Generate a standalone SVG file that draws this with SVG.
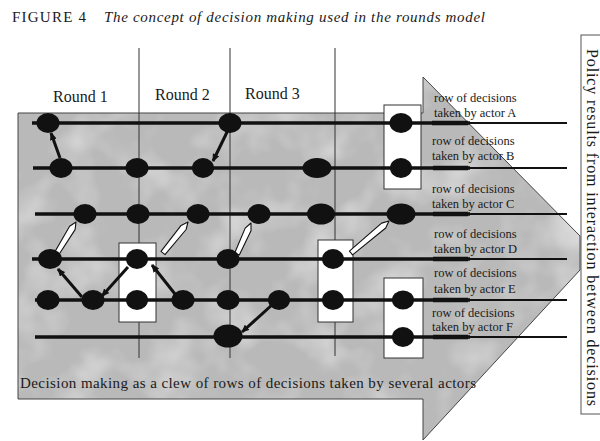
<svg xmlns="http://www.w3.org/2000/svg" width="600" height="441" viewBox="0 0 600 441">
  <style>
    text { font-family: "Liberation Serif", "Times New Roman", serif; fill: #1a1a1a; }
    .title { font-size: 15px; }
    .round { font-size: 16px; }
    .lbl { font-size: 12.5px; }
    .side { font-size: 16px; }
    .note { font-size: 15px; }
    .row { stroke: #111; stroke-width: 3.5; }
    .rowthick { stroke: #111; stroke-width: 4.5; }
    .rowthin { stroke: #111; stroke-width: 2; }
    .div { stroke: #333; stroke-width: 1; }
    .box { fill: #fff; stroke: #333; stroke-width: 1; }
    .node { fill: #111; }
    .push { stroke: #111; stroke-width: 3; fill: none; marker-end: url(#head); }
    .hollow { fill: #fff; stroke: #111; stroke-width: 1.1; stroke-linejoin: round; }
  </style>
  <defs>
    <marker id="head" markerUnits="userSpaceOnUse" markerWidth="8" markerHeight="7" refX="7" refY="3.5" orient="auto">
      <path d="M0,0 L8,3.5 L0,7 Z" fill="#111"/>
    </marker>
    <path id="bigArrow" d="M18,113 H423 V77 L580,236 V270 L423,440 V399 H18 Z"/>
    <filter id="mottle" x="0" y="0" width="1" height="1">
      <feTurbulence type="fractalNoise" baseFrequency="0.02" numOctaves="3" seed="11" result="noise"/>
      <feColorMatrix in="noise" type="matrix" values="0 0 0 0 1  0 0 0 0 1  0 0 0 0 1  1.0 0 0 0 -0.45" result="light"/>
      <feComposite in="light" in2="SourceAlpha" operator="in"/>
    </filter>
  </defs>

  <!-- caption -->
  <text class="title" x="12" y="22" textLength="74" lengthAdjust="spacing">FIGURE 4</text>
  <text class="title" x="104" y="22" font-style="italic" textLength="381" lengthAdjust="spacing">The concept of decision making used in the rounds model</text>

  <!-- large background arrow -->
  <g id="background-arrow">
    <use href="#bigArrow" fill="#b9b9b9"/>
    <use href="#bigArrow" fill="#000" filter="url(#mottle)"/>
    <use href="#bigArrow" fill="none" stroke="#444" stroke-width="1"/>
  </g>

  <!-- round dividers -->
  <g id="dividers">
    <line class="div" x1="139" y1="48" x2="139" y2="358"/>
    <line class="div" x1="230" y1="48" x2="230" y2="358"/>
    <line class="div" x1="335" y1="48" x2="335" y2="356"/>
  </g>

  <g id="round-labels">
    <text class="round" x="53" y="102">Round 1</text>
    <text class="round" x="155" y="100">Round 2</text>
    <text class="round" x="245" y="99">Round 3</text>
  </g>

  <!-- interaction boxes -->
  <g id="boxes">
    <rect class="box" x="384" y="105" width="37" height="84"/>
    <rect class="box" x="119" y="243" width="37" height="79"/>
    <rect class="box" x="318" y="240" width="35" height="82"/>
    <rect class="box" x="384" y="278" width="39" height="80"/>
  </g>

  <!-- rows of decisions, one per actor -->
  <g id="rows">
    <line class="row" x1="32" y1="123" x2="470" y2="123"/>
    <line class="rowthick" x1="432" y1="123" x2="468" y2="123"/>
    <line class="rowthin" x1="468" y1="123" x2="567" y2="123"/>

    <line class="row" x1="33" y1="168" x2="470" y2="168"/>
    <line class="rowthick" x1="433" y1="168" x2="468" y2="168"/>
    <line class="rowthin" x1="468" y1="168" x2="567" y2="168"/>

    <line class="row" x1="35" y1="214" x2="470" y2="214"/>
    <line class="rowthick" x1="433" y1="214" x2="468" y2="214"/>
    <line class="rowthin" x1="468" y1="214" x2="567" y2="214"/>

    <line class="row" x1="32" y1="259" x2="470" y2="259"/>
    <line class="rowthick" x1="433" y1="259" x2="468" y2="259"/>
    <line class="rowthin" x1="468" y1="259" x2="567" y2="259"/>

    <line class="row" x1="35" y1="300" x2="470" y2="300"/>
    <line class="rowthick" x1="433" y1="300" x2="468" y2="300"/>
    <line class="rowthin" x1="468" y1="300" x2="567" y2="300"/>

    <line class="row" x1="35" y1="337" x2="470" y2="337"/>
    <line class="rowthick" x1="433" y1="337" x2="468" y2="337"/>
    <line class="rowthin" x1="468" y1="337" x2="567" y2="337"/>
  </g>

  <g id="row-labels">
    <text class="lbl" x="434" y="102">row of decisions</text>
    <text class="lbl" x="434" y="117">taken by actor A</text>
    <text class="lbl" x="432" y="145">row of decisions</text>
    <text class="lbl" x="432" y="160">taken by actor B</text>
    <text class="lbl" x="432" y="193">row of decisions</text>
    <text class="lbl" x="432" y="208">taken by actor C</text>
    <text class="lbl" x="434" y="238">row of decisions</text>
    <text class="lbl" x="434" y="253">taken by actor D</text>
    <text class="lbl" x="434" y="277">row of decisions</text>
    <text class="lbl" x="434" y="293">taken by actor E</text>
    <text class="lbl" x="432" y="317">row of decisions</text>
    <text class="lbl" x="432" y="331">taken by actor F</text>
  </g>

  <!-- influences between decisions -->
  <g id="connectors">
    <line class="push" x1="60" y1="158" x2="51" y2="133"/>
    <line class="push" x1="230" y1="126" x2="213" y2="161"/>
    <line class="push" x1="82" y1="297" x2="58" y2="269"/>
    <line class="push" x1="128" y1="267" x2="102" y2="296"/>
    <line class="push" x1="175" y1="294" x2="152" y2="265"/>
    <line class="push" x1="273" y1="304" x2="242" y2="332"/>
    <polygon class="hollow" points="54.9,251.7 69.6,226.3 76,222 75.1,229.6 59.1,254.3"/>
    <polygon class="hollow" points="161.0,251.4 181.1,225.4 188,222 186.1,229.5 165.0,254.6"/>
    <polygon class="hollow" points="234.7,253.0 245.2,228.1 251,223 251.0,230.7 239.3,255.0"/>
    <polygon class="hollow" points="349.4,251.1 381.6,223.1 389,221 385.7,228.0 352.6,254.9"/>
  </g>

  <!-- decisions -->
  <g id="dA1"><ellipse class="node" cx="48" cy="123" rx="11.5" ry="10"/></g>
  <g id="dA2"><ellipse class="node" cx="230" cy="123" rx="11.5" ry="10"/></g>
  <g id="dA3"><ellipse class="node" cx="401" cy="123" rx="11.5" ry="10"/></g>

  <g id="dB1"><ellipse class="node" cx="61" cy="168" rx="11.5" ry="10"/></g>
  <g id="dB2"><ellipse class="node" cx="137" cy="168" rx="11.5" ry="10"/></g>
  <g id="dB3"><ellipse class="node" cx="203" cy="168" rx="11" ry="10"/></g>
  <g id="dB4"><ellipse class="node" cx="317" cy="168" rx="14.5" ry="10"/></g>
  <g id="dB5"><ellipse class="node" cx="401" cy="168" rx="11" ry="10"/></g>

  <g id="dC1"><ellipse class="node" cx="85" cy="214" rx="11.5" ry="10"/></g>
  <g id="dC2"><ellipse class="node" cx="138" cy="214" rx="11.5" ry="10"/></g>
  <g id="dC3"><ellipse class="node" cx="198" cy="214" rx="11.5" ry="10"/></g>
  <g id="dC4"><ellipse class="node" cx="259" cy="214" rx="11.5" ry="10"/></g>
  <g id="dC5"><ellipse class="node" cx="321" cy="214" rx="14" ry="10.5"/></g>
  <g id="dC6"><ellipse class="node" cx="401" cy="214" rx="14.5" ry="10.5"/></g>

  <g id="dD1"><ellipse class="node" cx="50" cy="259" rx="12" ry="10"/></g>
  <g id="dD2"><ellipse class="node" cx="137" cy="259" rx="11" ry="10"/></g>
  <g id="dD3"><ellipse class="node" cx="228" cy="259" rx="11.5" ry="10"/></g>
  <g id="dD4"><ellipse class="node" cx="333" cy="259" rx="11" ry="10"/></g>

  <g id="dE1"><ellipse class="node" cx="48" cy="300" rx="11.5" ry="10"/></g>
  <g id="dE2"><ellipse class="node" cx="93" cy="300" rx="11.5" ry="10"/></g>
  <g id="dE3"><ellipse class="node" cx="137" cy="300" rx="11" ry="10"/></g>
  <g id="dE4"><ellipse class="node" cx="183" cy="300" rx="11.5" ry="10"/></g>
  <g id="dE5"><ellipse class="node" cx="228" cy="300" rx="11.5" ry="10"/></g>
  <g id="dE6"><ellipse class="node" cx="279" cy="300" rx="11" ry="10"/></g>
  <g id="dE7"><ellipse class="node" cx="333" cy="300" rx="11" ry="10"/></g>
  <g id="dE8"><ellipse class="node" cx="403" cy="300" rx="11" ry="9.5"/></g>

  <g id="dF1"><ellipse class="node" cx="228" cy="336" rx="14.5" ry="11.5"/></g>
  <g id="dF2"><ellipse class="node" cx="403" cy="337" rx="11" ry="10"/></g>

  <text class="note" x="20" y="388" textLength="456" lengthAdjust="spacing">Decision making as a clew of rows of decisions taken by several actors</text>

  <!-- outcome panel -->
  <g id="outcome">
    <rect x="581" y="35" width="30" height="379" fill="#fff" stroke="#555" stroke-width="1"/>
    <text class="side" transform="translate(587,49) rotate(90)" textLength="357" lengthAdjust="spacing">Policy results from interaction between decisions</text>
  </g>
</svg>
